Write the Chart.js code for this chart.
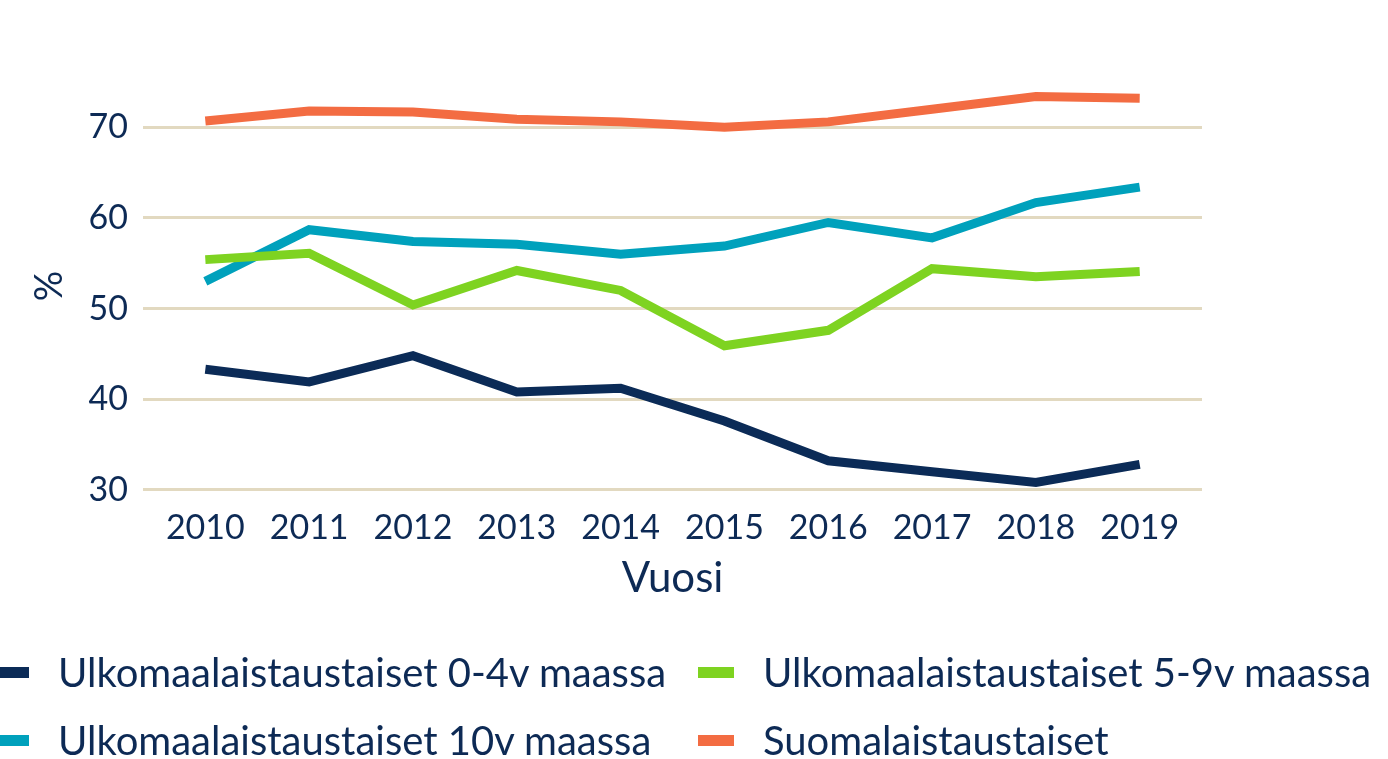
<!DOCTYPE html>
<html>
<head>
<meta charset="utf-8">
<script src="https://cdn.jsdelivr.net/npm/chart.js@4"></script>
<style>
    html, body { margin: 0; padding: 0; background: #fff; overflow: hidden; }
    #wrap { position: relative; width: 1388px; height: 608px; }
    #legend { position: absolute; left: 0; top: 0; width: 1388px; height: 759px; pointer-events: none; }
    .item { position: absolute; display: flex; align-items: center; height: 44px;
            font-family: Lato, sans-serif; font-size: 40px; color: #0d2a55; white-space: nowrap; }
    .swatch { width: 36px; height: 11px; margin-right: 29px; }
</style>
</head>
<body>
<div id="wrap"><canvas id="chart"></canvas></div>
<div id="legend"></div>
<script>
const years = [2010, 2011, 2012, 2013, 2014, 2015, 2016, 2017, 2018, 2019];
const ulko04 = [43.3, 41.9, 44.8, 40.8, 41.2, 37.6, 33.2, 32.0, 30.8, 32.8];
const ulko59 = [55.4, 56.1, 50.4, 54.2, 52.0, 45.9, 47.6, 54.4, 53.5, 54.1];
const ulko10 = [53.0, 58.7, 57.4, 57.1, 56.0, 56.9, 59.5, 57.8, 61.7, 63.4];
const suomi = [70.7, 71.8, 71.7, 70.9, 70.6, 70.0, 70.6, 72.0, 73.4, 73.2];
const yTicks = [30, 40, 50, 60, 70];

const textColor = '#0d2a55';
const font = 'Lato, sans-serif';

function points(values) {
    return years.map((yr, i) => ({ x: yr, y: values[i] }));
}

function line(label, values, color) {
    return {
        label: label,
        data: points(values),
        borderColor: color,
        backgroundColor: color,
        borderWidth: 9,
        borderCapStyle: 'butt',
        pointRadius: 0,
        tension: 0,
        fill: false
    };
}

const chart = new Chart(document.getElementById('chart'), {
    type: 'line',
    data: {
        datasets: [
            line('Ulkomaalaistaustaiset 0-4v maassa', ulko04, '#0b2b57'),
            line('Ulkomaalaistaustaiset 5-9v maassa', ulko59, '#7ed321'),
            line('Ulkomaalaistaustaiset 10v maassa', ulko10, '#00a1bc'),
            line('Suomalaistaustaiset', suomi, '#f36c42')
        ]
    },
    options: {
        responsive: true,
        maintainAspectRatio: false,
        animation: false,
        layout: { padding: { left: 23, right: 186, top: 82, bottom: 0 } },
        plugins: {
            legend: { display: false },
            tooltip: { enabled: false }
        },
        scales: {
            x: {
                type: 'linear',
                min: years[0] - 0.6,
                max: years[years.length - 1] + 0.6,
                grid: { display: false, drawTicks: false },
                border: { display: false },
                ticks: {
                    stepSize: 1,
                    includeBounds: false,
                    maxRotation: 0,
                    minRotation: 0,
                    padding: 18,
                    color: textColor,
                    font: { family: font, size: 34 },
                    callback: (v) => String(v)
                },
                title: {
                    display: true,
                    text: 'Vuosi',
                    color: textColor,
                    font: { family: font, size: 42 },
                    padding: { top: -13, bottom: 4 }
                }
            },
            y: {
                min: 30,
                max: 75,
                afterBuildTicks: (axis) => {
                    axis.ticks = yTicks.map(v => ({ value: v }));
                },
                grid: { color: '#e2d9c0', lineWidth: 3, drawTicks: false },
                border: { display: false },
                ticks: {
                    padding: 15,
                    color: textColor,
                    font: { family: font, size: 34 }
                },
                title: {
                    display: true,
                    text: '%',
                    color: textColor,
                    font: { family: font, size: 38 },
                    padding: { top: 4, bottom: 1 }
                }
            }
        }
    }
});

// legend in two columns, built from the datasets
const legendPos = [[-7, 650], [698, 650], [-7, 718], [698, 718]];
const legendEl = document.getElementById('legend');
chart.data.datasets.forEach((ds, i) => {
    const item = document.createElement('div');
    item.className = 'item';
    item.style.left = legendPos[i][0] + 'px';
    item.style.top = legendPos[i][1] + 'px';
    const sw = document.createElement('span');
    sw.className = 'swatch';
    sw.style.background = ds.borderColor;
    const txt = document.createElement('span');
    txt.textContent = ds.label;
    item.appendChild(sw);
    item.appendChild(txt);
    legendEl.appendChild(item);
});
</script>
</body>
</html>
